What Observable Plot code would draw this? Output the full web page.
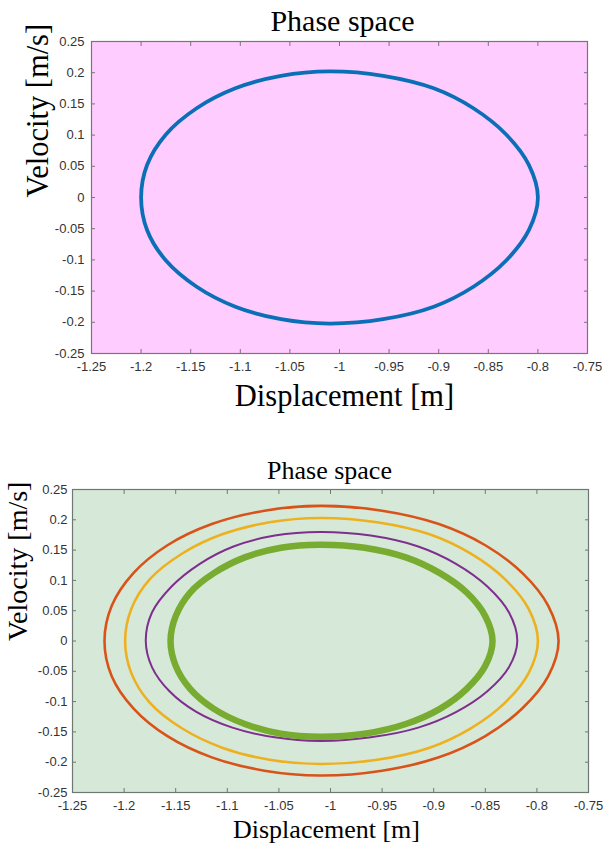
<!DOCTYPE html>
<html>
<head>
<meta charset="utf-8">
<script src="https://cdn.jsdelivr.net/npm/d3@7"></script>
<script src="https://cdn.jsdelivr.net/npm/@observablehq/plot@0.6"></script>
<style>
  html, body { margin: 0; padding: 0; background: #ffffff; }
  #wrap { width: 606px; }
  #wrap svg { display: block; }
</style>
</head>
<body>
<div id="wrap"></div>
<script>
// ---------- axis ticks ----------
const xTicks = [-1.25, -1.2, -1.15, -1.1, -1.05, -1, -0.95, -0.9, -0.85, -0.8, -0.75];
const yTicks = [-0.25, -0.2, -0.15, -0.1, -0.05, 0, 0.05, 0.1, 0.15, 0.2, 0.25];
const xDomain = [-1.25, -0.75];
const yDomain = [-0.25, 0.25];

// ---------- texts ----------
const titleText = "Phase space";
const xLabelText = "Displacement [m]";
const yLabelText = "Velocity [m/s]";

// ---------- top chart: single (blue) loop ----------
const blueDispl = [-1.010, -0.956, -0.905, -0.865, -0.832, -0.809, -0.800, -0.809, -0.832, -0.865, -0.905, -0.956, -1.010, -1.059, -1.105, -1.144, -1.175, -1.194, -1.200, -1.194, -1.175, -1.144, -1.105, -1.059];
const blueVel   = [0.202, 0.195, 0.175, 0.143, 0.101, 0.052, 0.000, -0.052, -0.101, -0.143, -0.175, -0.195, -0.202, -0.195, -0.175, -0.143, -0.101, -0.052, 0.000, 0.052, 0.101, 0.143, 0.175, 0.195];

// ---------- bottom chart: four loops ----------
const orangeDispl = [-1.010, -0.950, -0.895, -0.850, -0.814, -0.789, -0.779, -0.789, -0.814, -0.850, -0.895, -0.950, -1.010, -1.064, -1.115, -1.158, -1.191, -1.212, -1.219, -1.212, -1.191, -1.158, -1.115, -1.064];
const orangeVel   = [0.223, 0.215, 0.193, 0.158, 0.112, 0.058, 0.000, -0.058, -0.111, -0.157, -0.192, -0.214, -0.222, -0.214, -0.192, -0.157, -0.111, -0.058, 0.000, 0.058, 0.112, 0.158, 0.193, 0.215];

const yellowDispl = [-1.010, -0.955, -0.904, -0.864, -0.831, -0.808, -0.799, -0.808, -0.831, -0.864, -0.904, -0.955, -1.010, -1.059, -1.105, -1.144, -1.175, -1.193, -1.199, -1.193, -1.175, -1.144, -1.105, -1.059];
const yellowVel   = [0.203, 0.196, 0.176, 0.144, 0.102, 0.053, 0.000, -0.053, -0.102, -0.144, -0.176, -0.196, -0.203, -0.196, -0.176, -0.144, -0.102, -0.053, 0.000, 0.053, 0.102, 0.144, 0.176, 0.196];

const purpleDispl = [-1.010, -0.961, -0.915, -0.878, -0.848, -0.827, -0.819, -0.827, -0.848, -0.878, -0.915, -0.961, -1.010, -1.054, -1.095, -1.130, -1.156, -1.173, -1.179, -1.173, -1.154, -1.127, -1.094, -1.054];
const purpleVel   = [0.180, 0.174, 0.156, 0.127, 0.090, 0.047, 0.000, -0.043, -0.083, -0.117, -0.143, -0.159, -0.165, -0.159, -0.143, -0.117, -0.083, -0.043, 0.000, 0.047, 0.090, 0.127, 0.156, 0.174];

const greenDispl = [-1.010, -0.967, -0.927, -0.894, -0.868, -0.850, -0.843, -0.850, -0.868, -0.894, -0.927, -0.967, -1.010, -1.048, -1.083, -1.113, -1.136, -1.150, -1.155, -1.150, -1.136, -1.113, -1.083, -1.048];
const greenVel   = [0.159, 0.154, 0.138, 0.112, 0.080, 0.041, 0.000, -0.041, -0.079, -0.112, -0.137, -0.153, -0.158, -0.153, -0.137, -0.112, -0.079, -0.041, 0.000, 0.041, 0.080, 0.112, 0.138, 0.154];

const toPts = (xs, ys) => xs.map((x, i) => ({x, y: ys[i]}));
const fmt = d => String(Number(d.toFixed(2)));

function makeChart(cfg) {
  const loopMarks = cfg.loops.map(l =>
    Plot.line(toPts(l.xs, l.ys), {
      x: "x", y: "y", curve: "catmull-rom-closed",
      stroke: l.color, strokeWidth: l.width, strokeLinejoin: "round"
    })
  );
  return Plot.plot({
    width: 606,
    height: cfg.height,
    marginLeft: cfg.ml, marginRight: cfg.mr, marginTop: cfg.mt, marginBottom: cfg.mb,
    x: {domain: xDomain},
    y: {domain: yDomain},
    style: {background: "white", overflow: "visible", color: "#333"},
    marks: [
      Plot.frame({fill: cfg.bg, stroke: null}),
      ...loopMarks,
      // inward ticks on all four sides
      Plot.axisX(xTicks, {anchor: "bottom", tickSize: -4, tickFormat: () => "", stroke: cfg.frame, label: null}),
      Plot.axisX(xTicks, {anchor: "top", tickSize: -4, tickFormat: () => "", stroke: cfg.frame, label: null}),
      Plot.axisY(yTicks, {anchor: "left", tickSize: -4, tickFormat: () => "", stroke: cfg.frame, label: null}),
      Plot.axisY(yTicks, {anchor: "right", tickSize: -4, tickFormat: () => "", stroke: cfg.frame, label: null}),
      // tick labels
      Plot.axisX(xTicks, {anchor: "bottom", tickSize: 0, tickPadding: cfg.xPad, tickFormat: fmt, label: null,
        fontSize: 13, fontFamily: "Liberation Sans, Arial, sans-serif", fill: "#333"}),
      Plot.axisY(yTicks, {anchor: "left", tickSize: 0, tickPadding: cfg.yPad, tickFormat: fmt, label: null,
        fontSize: 13, fontFamily: "Liberation Sans, Arial, sans-serif", fill: "#333"}),
      Plot.frame({stroke: cfg.frame, strokeWidth: 1.2}),
      // title & axis labels
      Plot.text([titleText], {frameAnchor: "top", dx: cfg.titleDx, dy: cfg.titleDy, fontSize: cfg.titleSize,
        fontFamily: "Liberation Serif, Times New Roman, serif", fill: "#000", lineAnchor: "middle"}),
      Plot.text([xLabelText], {frameAnchor: "bottom", dx: cfg.xLabDx, dy: cfg.xLabDy, fontSize: cfg.labSize,
        fontFamily: "Liberation Serif, Times New Roman, serif", fill: "#000", lineAnchor: "middle"}),
      Plot.text([yLabelText], {frameAnchor: "left", rotate: -90, dx: cfg.yLabDx, fontSize: cfg.yLabSize,
        fontFamily: "Liberation Serif, Times New Roman, serif", fill: "#000", lineAnchor: "middle"})
    ]
  });
}

const chartTop = makeChart({
  height: 425, ml: 91, mr: 19, mt: 41, mb: 72,
  bg: "#ffccff", frame: "#7d737d",
  loops: [{xs: blueDispl, ys: blueVel, color: "#0b6fb8", width: 3.8}],
  xPad: 8, yPad: 7,
  titleDx: 3, titleDy: -20, titleSize: 30,
  xLabDx: 5, xLabDy: 43, labSize: 30.5,
  yLabDx: -53, yLabSize: 30.5
});

const chartBottom = makeChart({
  height: 418, ml: 72, mr: 18, mt: 64, mb: 51,
  bg: "#d6e8d8", frame: "#6f7870",
  loops: [
    {xs: orangeDispl, ys: orangeVel, color: "#d95319", width: 2.6},
    {xs: yellowDispl, ys: yellowVel, color: "#edb120", width: 2.6},
    {xs: purpleDispl, ys: purpleVel, color: "#7e2f8e", width: 2.0},
    {xs: greenDispl, ys: greenVel, color: "#77ac30", width: 6.5}
  ],
  xPad: 8, yPad: 5,
  titleDx: -1, titleDy: -19, titleSize: 26,
  xLabDx: -4, xLabDy: 37, labSize: 26,
  yLabDx: -54, yLabSize: 28
});

document.getElementById("wrap").append(chartTop, chartBottom);
</script>
</body>
</html>
